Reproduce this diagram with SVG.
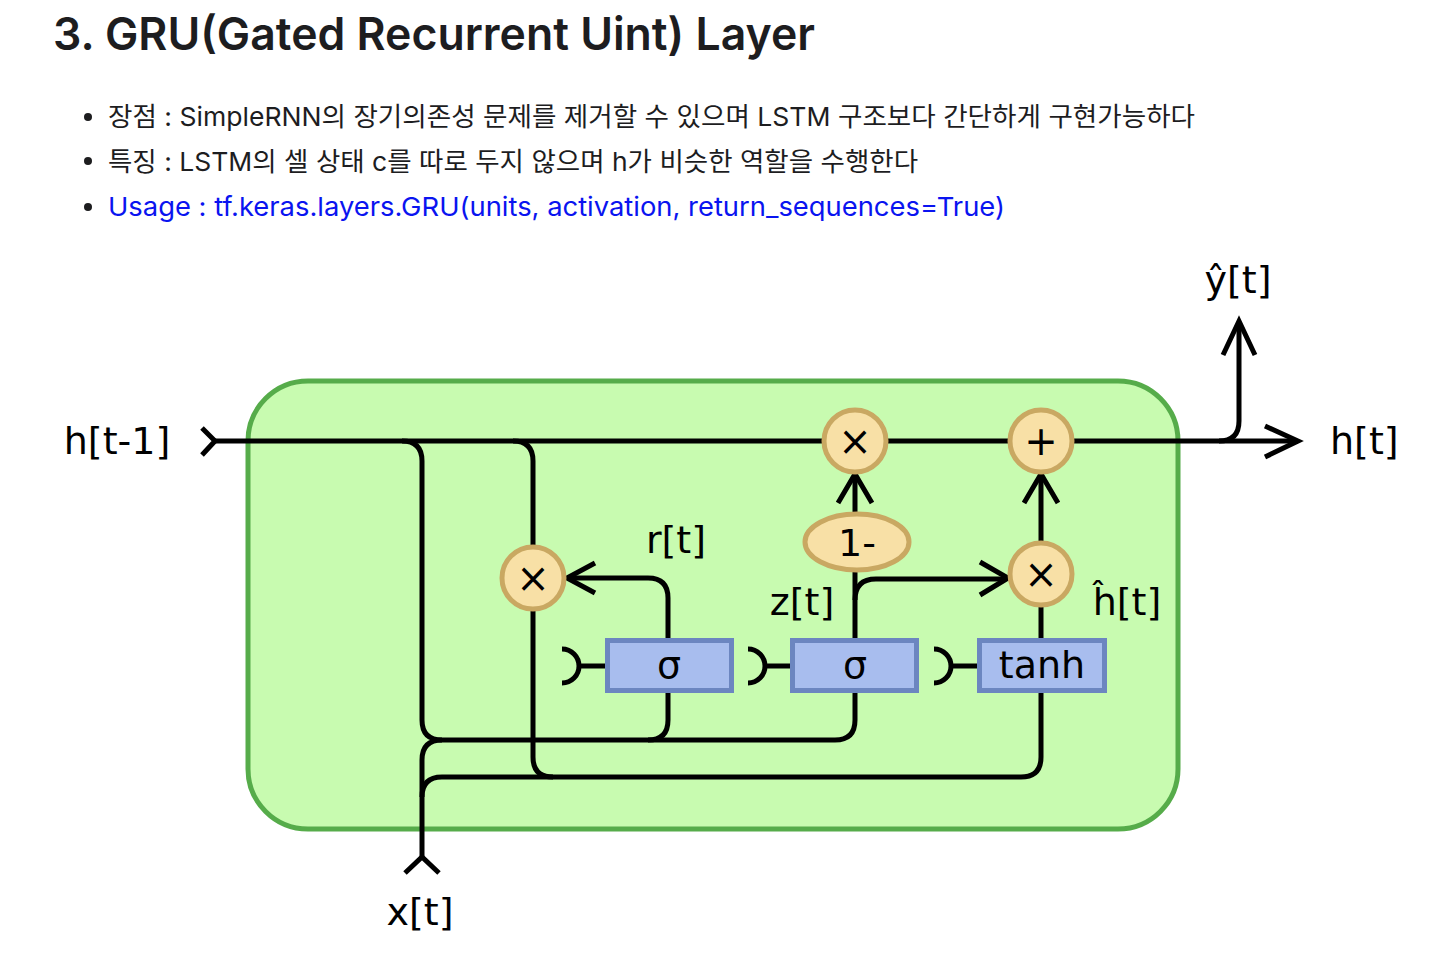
<svg xmlns="http://www.w3.org/2000/svg" width="1430" height="958" viewBox="0 0 1430 958">
<defs>
<style>
.hd{font-family:Inter,"Liberation Sans","Noto Sans CJK KR",sans-serif;fill:#1d1d1f}
.bl{font-family:Inter,"Liberation Sans","Noto Sans CJK KR",sans-serif;font-size:26px;fill:#1d1d1f}
.lk{fill:#0a14f0}
.lb{font-family:"DejaVu Sans",sans-serif;font-size:38px;fill:#000}
.ln{fill:none;stroke:#000;stroke-width:5;stroke-linecap:butt;stroke-linejoin:miter}
.op{fill:#f8e0a6;stroke:#c9a862;stroke-width:5}
.bx{fill:#a8bdee;stroke:#6c86c0;stroke-width:5}
.sym{font-family:"DejaVu Sans",sans-serif;font-size:40px;fill:#000;text-anchor:middle}
</style>
</defs>
<rect width="1430" height="958" fill="#fff"/>
<g id="header">
<text class="hd" x="53" y="50" font-size="45" font-weight="600" textLength="762" lengthAdjust="spacingAndGlyphs">3. GRU(Gated Recurrent Uint) Layer</text>
<circle cx="88" cy="117" r="4" fill="#1d1d1f"/>
<circle cx="88" cy="161" r="4" fill="#1d1d1f"/>
<circle cx="88" cy="207" r="4" fill="#1d1d1f"/>
<text class="bl" x="108" y="126" textLength="1087" lengthAdjust="spacingAndGlyphs">장점 : SimpleRNN의 장기의존성 문제를 제거할 수 있으며 LSTM 구조보다 간단하게 구현가능하다</text>
<text class="bl" x="108" y="171" textLength="810" lengthAdjust="spacingAndGlyphs">특징 : LSTM의 셀 상태 c를 따로 두지 않으며 h가 비슷한 역할을 수행한다</text>
<text class="bl lk" x="108" y="216" textLength="897" lengthAdjust="spacingAndGlyphs">Usage : tf.keras.layers.GRU(units, activation, return_sequences=True)</text>
</g>
<g id="cell">
<rect x="248" y="381" width="930" height="448" rx="60" ry="60" fill="#c8fbb0" stroke="#56ac4a" stroke-width="5"/>
</g>
<g id="connectors">
<path class="ln" d="M215 441 H1296"/>
<path class="ln" d="M202 428 L215 441 L202 455"/>
<path class="ln" d="M1265 426 L1298 441 L1265 457"/>
<path class="ln" d="M1219 441 Q1239 441 1239 421 V322"/>
<path class="ln" d="M1223 355 L1239 321 L1255 355"/>
<path class="ln" d="M402 441 Q422 441 422 461 V720 Q422 740 442 740 H835 Q855 740 855 720 V692"/>
<path class="ln" d="M668 692 V720 Q668 740 648 740"/>
<path class="ln" d="M422 857 V760 Q422 740 442 740"/>
<path class="ln" d="M422 797 Q422 777 442 777 H1021 Q1041 777 1041 757 V692"/>
<path class="ln" d="M405 873 L422 857 L439 873"/>
<path class="ln" d="M513 441 Q533 441 533 461 V550"/>
<path class="ln" d="M533 606 V757 Q533 777 553 777"/>
<path class="ln" d="M668 640 V598 Q668 578 648 578 H568"/>
<path class="ln" d="M595 563 L567 578 L595 593"/>
<path class="ln" d="M855 640 V570"/>
<path class="ln" d="M855 600 Q855 579 876 579 H1006"/>
<path class="ln" d="M980 562 L1008 578 L980 595"/>
<path class="ln" d="M855 514 V476"/>
<path class="ln" d="M838 503 L855 474 L872 503"/>
<path class="ln" d="M1041 545 V476"/>
<path class="ln" d="M1024 503 L1041 474 L1058 503"/>
<path class="ln" d="M1041 640 V605"/>
<path class="ln" d="M562 649 A17 17 0 0 1 562 683 M579 666 H606"/>
<path class="ln" d="M748 649 A17 17 0 0 1 748 683 M765 666 H791"/>
<path class="ln" d="M934 649 A17 17 0 0 1 934 683 M951 666 H978"/>
</g>
<g id="mul-h">
<circle class="op" cx="855" cy="441" r="31"/>
<text class="sym" x="855" y="455">×</text>
</g>
<g id="add-h">
<circle class="op" cx="1041" cy="441" r="31"/>
<text class="sym" x="1041" y="455">+</text>
</g>
<g id="mul-r">
<circle class="op" cx="533" cy="578" r="31"/>
<text class="sym" x="533" y="592">×</text>
</g>
<g id="mul-z">
<circle class="op" cx="1041" cy="574" r="31"/>
<text class="sym" x="1041" y="588">×</text>
</g>
<g id="one-minus">
<ellipse class="op" cx="857" cy="542" rx="52" ry="28"/>
<text class="lb" x="857" y="556" font-size="36" text-anchor="middle">1-</text>
</g>
<g id="sigma-r">
<rect class="bx" x="607.5" y="640.5" width="124" height="50"/>
<text class="lb" x="669" y="678" text-anchor="middle">σ</text>
</g>
<g id="sigma-z">
<rect class="bx" x="792.5" y="640.5" width="124" height="50"/>
<text class="lb" x="855" y="678" text-anchor="middle">σ</text>
</g>
<g id="tanh">
<rect class="bx" x="979.5" y="640.5" width="125" height="50"/>
<text class="lb" x="1042" y="678" text-anchor="middle">tanh</text>
</g>
<g id="labels">
<text class="lb" x="117" y="454" text-anchor="middle">h[t-1]</text>
<text class="lb" x="1330" y="454">h[t]</text>
<text class="lb" x="1238" y="293" text-anchor="middle">ŷ[t]</text>
<text class="lb" x="420" y="925" text-anchor="middle">x[t]</text>
<text class="lb" x="676" y="553" text-anchor="middle">r[t]</text>
<text class="lb" x="802" y="615" text-anchor="middle">z[t]</text>
<text class="lb" x="1127" y="615" text-anchor="middle">ĥ[t]</text>
</g>
</svg>
